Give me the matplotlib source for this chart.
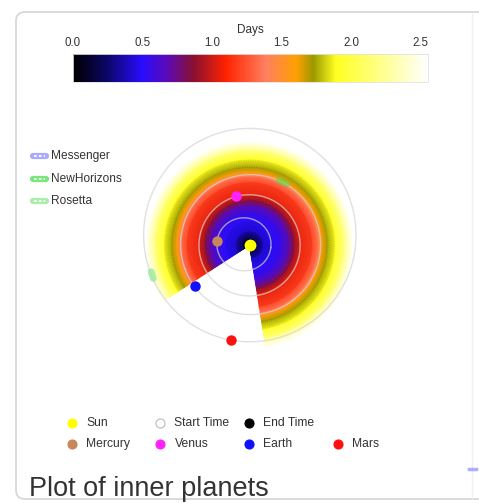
import numpy as np
import matplotlib
matplotlib.use("Agg")
import matplotlib.pyplot as plt
from matplotlib.colors import LinearSegmentedColormap, Normalize
from matplotlib.cm import ScalarMappable
from matplotlib.patches import FancyBboxPatch
from matplotlib.ticker import FormatStrFormatter

plt.rcParams['font.family'] = ['Liberation Sans', 'DejaVu Sans']

# ---- planets (orbit elements in AU, angles in degrees in the plot frame) ----
planet_names = ['Mercury', 'Venus', 'Earth', 'Mars']
planet_colors = ['#c8865a', '#ff22ff', '#1010ff', '#ff1010']
semi_major = [0.387, 0.723, 1.000, 1.524]
eccentricity = [0.206, 0.007, 0.017, 0.093]
perihelion_deg = [353, 100, 200, 268]
planet_angle_deg = [173, 105, 217, 259]

# ---- spacecraft tracks (AU) ----
craft_names = ['Messenger', 'NewHorizons', 'Rosetta']
craft_colors = ['#8c8cff', '#4ee04e', '#8fe88f']
newhorizons_x = [0.43, 0.53]
newhorizons_y = [0.925, 0.875]
rosetta_x = [-1.405, -1.375]
rosetta_y = [-0.382, -0.478]

# ---- travel-time field: days as a function of distance from the Sun ----
ring_r = [0.0, 0.10, 0.20, 0.343, 0.471, 0.571, 0.643, 0.714, 0.90, 0.986,
          1.043, 1.114, 1.229, 1.357, 1.471]
ring_days = [0.0, 0.15, 0.4, 0.5, 0.57, 0.7, 0.88, 1.05, 1.2, 1.38,
             1.6, 1.73, 1.9, 2.2, 2.55]
field_start_deg = 279
field_end_deg = 573

# ---- colour scale ----
days_max = 2.55
cbar_ticks = [0.0, 0.5, 1.0, 1.5, 2.0, 2.5]
cmap_days = [0.0, 0.25, 0.5, 0.68, 0.87, 1.1, 1.39, 1.61, 1.73, 1.89, 2.23, 2.55]
cmap_colors = ['#000000', '#0c0668', '#2a0cff', '#5c0ab4', '#8a1030', '#ff2200',
               '#ff8060', '#ffa000', '#9a9800', '#ffff20', '#ffff90', '#ffffff']

legend_rows = [
    [('Sun', '#ffff00', '#ffff00'), ('Start Time', '#ffffff', '#bbbbbb'),
     ('End Time', '#000000', '#000000')],
    [('Mercury', '#c8865a', '#c8865a'), ('Venus', '#ff22ff', '#ff22ff'),
     ('Earth', '#1010ff', '#1010ff'), ('Mars', '#ff1010', '#ff1010')],
]
title_text = 'Plot of inner planets'

W, H = 479, 503
SCALE = 70.0  # pixels per AU
fig = plt.figure(figsize=(W / 100, H / 100), dpi=100)
fig.patch.set_facecolor('white')


def px_rect(x0, y0, x1, y1):
    return [x0 / W, 1 - y1 / H, (x1 - x0) / W, (y1 - y0) / H]


# page / card layer in pixel coordinates
ov = fig.add_axes([0, 0, 1, 1])
ov.set_xlim(0, W)
ov.set_ylim(H, 0)
ov.axis('off')
ov.add_patch(FancyBboxPatch((16, 12), 520, 487, boxstyle='round,pad=0,rounding_size=9',
                            fc='white', ec='#d8d8d8', lw=1.3, zorder=0))
ov.plot([472, 472], [13, 498], color='#f0f0f0', lw=1, zorder=1)
ov.plot([469, 476], [468.5, 468.5], color='#9a9aff', lw=2.5, alpha=0.8, zorder=1)

cmap = LinearSegmentedColormap.from_list(
    'days', [(d / days_max, c) for d, c in zip(cmap_days, cmap_colors)], N=512)
norm = Normalize(0, days_max)

# main orbit axes, Sun at the origin
ax = fig.add_axes(px_rect(99.5, 95, 399.5, 395))
half = 150 / SCALE
ax.set_xlim(-half, half)
ax.set_ylim(-half, half)
ax.set_aspect('equal')
ax.axis('off')

theta = np.radians(np.linspace(field_start_deg, field_end_deg, 181))
TH, R = np.meshgrid(theta, np.array(ring_r))
C = np.broadcast_to(np.array(ring_days)[:, None], TH.shape)
ax.pcolormesh(R * np.cos(TH), R * np.sin(TH), C, cmap=cmap, norm=norm,
              shading='gouraud', zorder=1)

nu = np.linspace(0, 2 * np.pi, 400)
for a, e, w, ang, col in zip(semi_major, eccentricity, perihelion_deg,
                             planet_angle_deg, planet_colors):
    p = a * (1 - e ** 2)
    r = p / (1 + e * np.cos(nu))
    ph = nu + np.radians(w)
    ax.plot(r * np.cos(ph), r * np.sin(ph), color='#d4d4d4', lw=1.0, alpha=0.7, zorder=2)
    rp = p / (1 + e * np.cos(np.radians(ang - w)))
    ax.plot(rp * np.cos(np.radians(ang)), rp * np.sin(np.radians(ang)), 'o',
            ms=7.5, color=col, mec='none', zorder=5)

ax.plot(newhorizons_x, newhorizons_y, color=craft_colors[1], lw=5, alpha=0.55,
        solid_capstyle='round', zorder=3)
ax.plot(rosetta_x, rosetta_y, color=craft_colors[2], lw=5, alpha=0.7,
        solid_capstyle='round', zorder=3)
ax.plot([0], [0], 'o', ms=8.5, color='#ffff00', mec='none', zorder=6)

# colour bar
cax = fig.add_axes(px_rect(72.7, 54.3, 427.7, 81.7))
cb = fig.colorbar(ScalarMappable(norm=norm, cmap=cmap), cax=cax,
                  orientation='horizontal', ticks=cbar_ticks)
cax.xaxis.set_ticks_position('top')
cax.xaxis.set_label_position('top')
cax.xaxis.set_major_formatter(FormatStrFormatter('%.1f'))
cax.tick_params(length=0, pad=4, labelsize=8.3, labelcolor='#333333')
cb.set_label('Days', fontsize=8.5, color='#333333', labelpad=3)
cb.outline.set_edgecolor('#e0e0e0')
cb.outline.set_linewidth(0.6)

# spacecraft key
for i, (name, col) in enumerate(zip(craft_names, craft_colors)):
    y = 156 + 22.5 * i
    ov.plot([33, 46], [y, y], color=col, lw=4.5, alpha=0.75, solid_capstyle='round', zorder=3)
    ov.plot([34, 45], [y, y], color='white', lw=1.3, ls=(0, (1.5, 1.2)), zorder=4)
    ov.text(51.5, y, name, fontsize=8.6, color='#333333', va='center', ha='left', zorder=4)

# body key
col_x = [72.3, 160.5, 249, 337.7]
row_y = [422.7, 444.3]
for ry, row in zip(row_y, legend_rows):
    for cx, (name, fc, ec) in zip(col_x, row):
        ov.plot([cx], [ry], 'o', ms=6.5, mfc=fc, mec=ec, mew=0.8, zorder=4)
        ov.text(cx + 14, ry, name, fontsize=8.7, color='#333333', va='center', ha='left', zorder=4)

ov.text(29, 496.5, title_text, fontsize=19.5, color='#333333', va='baseline', ha='left', zorder=4)

fig.savefig('out.png', dpi=100, facecolor=fig.get_facecolor())
